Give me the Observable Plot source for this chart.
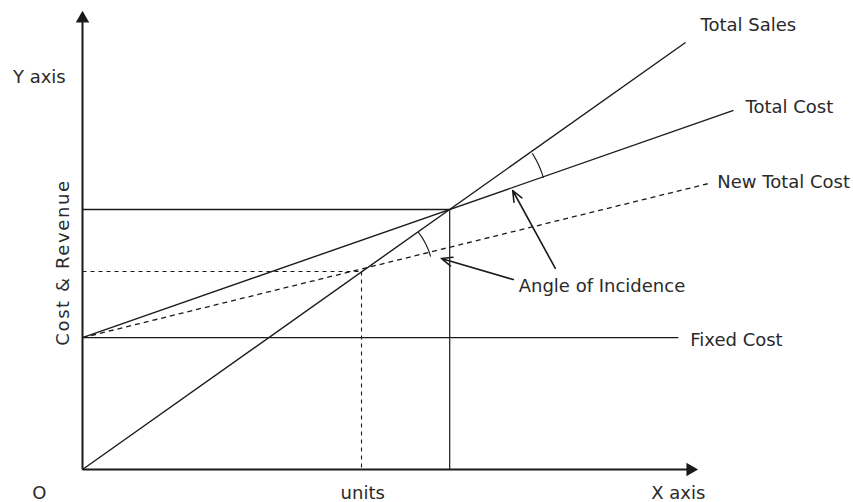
<!DOCTYPE html>
<html>
<head>
<meta charset="utf-8">
<script src="https://cdn.jsdelivr.net/npm/d3@7"></script>
<script src="https://cdn.jsdelivr.net/npm/@observablehq/plot@0.6"></script>
<style>
  html, body { margin: 0; padding: 0; background: #ffffff; }
  #chart svg { display: block; }
</style>
</head>
<body>
<div id="chart"></div>
<script>
// ---- Break-even chart values (units on x, cost & revenue on y) ----
const lineNames  = ["Total Sales", "Total Cost", "New Total Cost", "Fixed Cost"];
const lineStartX = [0, 0, 0, 0];
const lineStartY = [0, 29.3, 29.3, 29.3];
const lineEndX   = [100.5, 108.5, 104.2, 99.3];
const lineEndY   = [94.9, 79.8, 63.5, 29.3];
const lineDashed = [false, false, true, false];

// break-even points: original and with new total cost
const bepNames = ["Break-even", "New break-even"];
const bepUnits = [61.2, 46.5];
const bepValue = [57.8, 44.0];
const bepDashed = [false, true];

// axes extents
const axisXEnd = 101.3;
const axisYEnd = 100.2;

// text labels
const labelText = ["Total Sales", "Total Cost", "New Total Cost", "Fixed Cost", "Angle of Incidence", "Y axis", "O", "units", "X axis"];
const labelX    = [103, 110.5, 105.8, 101.3, 72.7, -7.2, -7.2, 46.7, 99.3];
const labelY    = [98.7, 80.4, 63.8, 28.7, 40.7, 87.1, -5.2, -5.2, -5.2];
const labelAnchor = ["start", "start", "start", "start", "start", "middle", "middle", "middle", "middle"];
const yTitle = ["Cost & Revenue"];

// pointer arrows (tail -> tip)
const pointerX1 = [71.8, 78.8];
const pointerY1 = [42.2, 44.7];
const pointerX2 = [59.8, 71.7];
const pointerY2 = [46.9, 62.0];

// angle arcs (from point on sales line to point on cost line)
const arcNames = ["Sales vs Total Cost", "Sales vs New Total Cost"];
const arcX1 = [75.0, 56.0];
const arcY1 = [70.2, 52.7];
const arcX2 = [76.8, 58.0];
const arcY2 = [64.9, 47.4];
const arcBend = [8, 11];

// ---- build tables ----
const lines = lineNames.map((n, i) => ({name: n, x1: lineStartX[i], y1: lineStartY[i], x2: lineEndX[i], y2: lineEndY[i], dashed: lineDashed[i]}));
const beps = bepNames.map((n, i) => ({name: n, x: bepUnits[i], y: bepValue[i], dashed: bepDashed[i]}));
const labels = labelText.map((t, i) => ({t, x: labelX[i], y: labelY[i], a: labelAnchor[i]}));
const pointers = pointerX1.map((_, i) => ({x1: pointerX1[i], y1: pointerY1[i], x2: pointerX2[i], y2: pointerY2[i]}));
const arcs = arcNames.map((n, i) => ({name: n, x1: arcX1[i], y1: arcY1[i], x2: arcX2[i], y2: arcY2[i], bend: arcBend[i]}));

const ink = "#1a1a1a";
const textInk = "#2a2a2a";
const font = "DejaVu Sans";

const solid = lines.filter(d => !d.dashed);
const dashed = lines.filter(d => d.dashed);

const chart = Plot.plot({
  width: 853,
  height: 502,
  style: {background: "#ffffff", fontFamily: font},
  x: {domain: [0, 100], range: [82, 682], axis: null},
  y: {domain: [0, 100], range: [469, 19], axis: null},
  marks: [
    // cost / revenue lines
    Plot.link(solid, {x1: "x1", y1: "y1", x2: "x2", y2: "y2", stroke: ink, strokeWidth: 1.4}),
    Plot.link(dashed, {x1: "x1", y1: "y1", x2: "x2", y2: "y2", stroke: ink, strokeWidth: 1.3, strokeDasharray: "5,4"}),
    // break-even guides: solid
    Plot.link(beps.filter(d => !d.dashed), {x1: 0, y1: "y", x2: "x", y2: "y", stroke: ink, strokeWidth: 1.5}),
    Plot.link(beps.filter(d => !d.dashed), {x1: "x", y1: "y", x2: "x", y2: 0, stroke: ink, strokeWidth: 1.2}),
    // break-even guides: dashed
    Plot.link(beps.filter(d => d.dashed), {x1: 0, y1: "y", x2: "x", y2: "y", stroke: ink, strokeWidth: 1.1, strokeDasharray: "4,4"}),
    Plot.link(beps.filter(d => d.dashed), {x1: "x", y1: "y", x2: "x", y2: 0, stroke: ink, strokeWidth: 1.1, strokeDasharray: "4,4"}),
    // axes
    Plot.link([{x1: 0, y1: 0, x2: axisXEnd, y2: 0}], {x1: "x1", y1: "y1", x2: "x2", y2: "y2", stroke: ink, strokeWidth: 2}),
    Plot.link([{x1: 0, y1: 0, x2: 0, y2: axisYEnd}], {x1: "x1", y1: "y1", x2: "x2", y2: "y2", stroke: ink, strokeWidth: 2}),
    Plot.dot([{x: axisXEnd, y: 0}], {x: "x", y: "y", symbol: "triangle", r: 5, fill: ink, stroke: "none", rotate: 90}),
    Plot.dot([{x: 0, y: axisYEnd}], {x: "x", y: "y", symbol: "triangle", r: 5, fill: ink, stroke: "none", rotate: 0}),
    // angle arcs (bend is a constant option, so one mark per arc)
    Plot.arrow([arcs[0]], {x1: "x1", y1: "y1", x2: "x2", y2: "y2", bend: arcs[0].bend, headLength: 0, stroke: ink, strokeWidth: 1.1}),
    Plot.arrow([arcs[1]], {x1: "x1", y1: "y1", x2: "x2", y2: "y2", bend: arcs[1].bend, headLength: 0, stroke: ink, strokeWidth: 1.1}),
    // pointers
    Plot.arrow(pointers, {x1: "x1", y1: "y1", x2: "x2", y2: "y2", headLength: 11, headAngle: 45, stroke: ink, strokeWidth: 1.6}),
    // labels
    Plot.text(labels.filter(d => d.a === "start"), {x: "x", y: "y", text: "t", textAnchor: "start", fontSize: 18, fill: textInk}),
    Plot.text(labels.filter(d => d.a === "middle"), {x: "x", y: "y", text: "t", textAnchor: "middle", fontSize: 18, fill: textInk}),
    Plot.text(yTitle, {x: -3.2, y: 46, text: d => d, rotate: -90, fontSize: 18, fill: textInk, className: "ytitle"})
  ]
});

// widen the rotated axis title a little, as in the reference
chart.querySelectorAll(".ytitle text").forEach(t => t.style.letterSpacing = "1.6px");

document.getElementById("chart").appendChild(chart);
</script>
</body>
</html>
